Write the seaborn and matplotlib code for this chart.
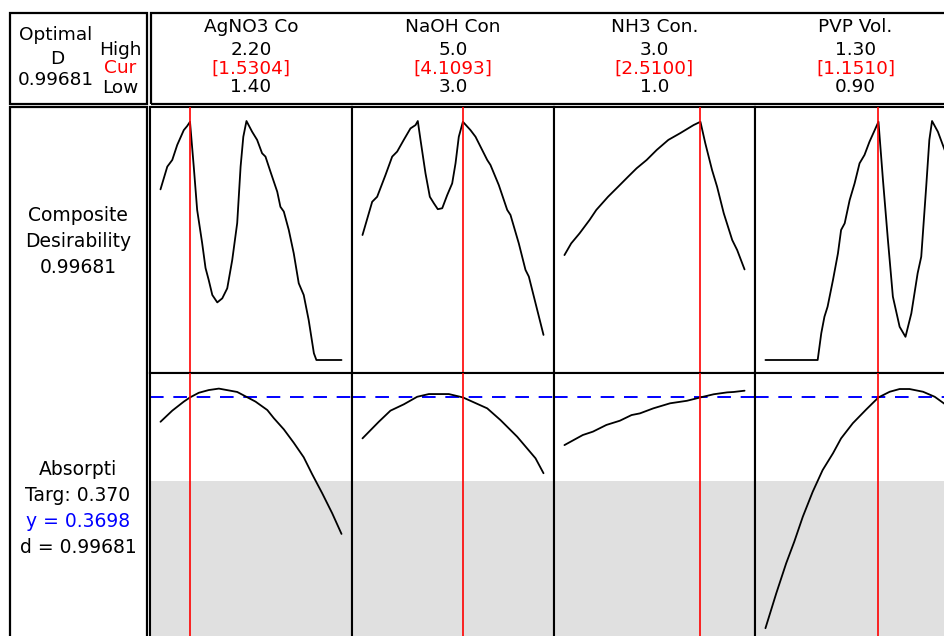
import matplotlib
matplotlib.use('Agg')
import matplotlib.pyplot as plt
from matplotlib.patches import Rectangle
import seaborn as sns

# ------------------------------------------------------------
# Datos del optimizador de respuesta
# ------------------------------------------------------------
factors = ['AgNO3 Co', 'NaOH Con', 'NH3 Con.', 'PVP Vol.']
high_lbl = ['2.20', '5.0', '3.0', '1.30']
low_lbl = ['1.40', '3.0', '1.0', '0.90']
cur_lbl = ['[1.5304]', '[4.1093]', '[2.5100]', '[1.1510]']
low_vals = [1.40, 3.0, 1.0, 0.90]
high_vals = [2.20, 5.0, 3.0, 1.30]
cur_vals = [1.5304, 4.1093, 2.51, 1.151]

optimal_d = '0.99681'
target = 0.370
lower_limit = 0.33
y_pred = '0.3698'

# Deseabilidad compuesta
agno3_dx = [1.40, 1.430, 1.452, 1.474, 1.503, 1.518, 1.5304, 1.547, 1.562, 1.584,
            1.599, 1.613, 1.629, 1.651, 1.673, 1.695, 1.717, 1.739, 1.754, 1.766,
            1.780, 1.805, 1.827, 1.849, 1.864, 1.886, 1.916, 1.930, 1.945, 1.967,
            1.989, 2.011, 2.033, 2.055, 2.078, 2.089, 2.20]
agno3_d = [0.714, 0.809, 0.837, 0.900, 0.962, 0.979, 0.99681, 0.809, 0.628, 0.490,
           0.385, 0.335, 0.272, 0.241, 0.258, 0.300, 0.418, 0.573, 0.809, 0.934,
           1.0, 0.955, 0.921, 0.865, 0.851, 0.788, 0.704, 0.641, 0.621, 0.544,
           0.446, 0.321, 0.272, 0.167, 0.028, 0.0, 0.0]

naoh_dx = [3.0, 3.107, 3.162, 3.254, 3.328, 3.383, 3.456, 3.530, 3.586, 3.611,
           3.641, 3.696, 3.744, 3.788, 3.832, 3.881, 3.936, 3.991, 4.028, 4.064,
           4.1093, 4.193, 4.249, 4.378, 4.414, 4.506, 4.599, 4.635, 4.727, 4.801,
           4.838, 5.0]
naoh_d = [0.523, 0.662, 0.683, 0.774, 0.851, 0.872, 0.921, 0.969, 0.983, 1.0,
          0.921, 0.781, 0.683, 0.656, 0.631, 0.635, 0.690, 0.739, 0.823, 0.934,
          0.99681, 0.962, 0.934, 0.837, 0.816, 0.732, 0.628, 0.607, 0.488, 0.377,
          0.349, 0.105]

nh3_dx = [1.0, 1.075, 1.168, 1.279, 1.354, 1.484, 1.596, 1.707, 1.801, 1.913,
          2.025, 2.154, 2.285, 2.434, 2.51, 2.564, 2.639, 2.695, 2.769, 2.863,
          2.918, 3.0]
nh3_d = [0.439, 0.488, 0.530, 0.586, 0.628, 0.683, 0.725, 0.767, 0.802, 0.837,
         0.879, 0.921, 0.949, 0.983, 0.99681, 0.907, 0.795, 0.725, 0.614, 0.502,
         0.460, 0.379]

pvp_dx = [0.90, 1.016, 1.024, 1.031, 1.038, 1.050, 1.061, 1.068, 1.076, 1.087,
          1.098, 1.109, 1.120, 1.131, 1.151, 1.161, 1.172, 1.183, 1.198, 1.211,
          1.224, 1.238, 1.246, 1.257, 1.264, 1.270, 1.283, 1.298, 1.30]
pvp_d = [0.0, 0.0, 0.112, 0.181, 0.223, 0.335, 0.446, 0.544, 0.572, 0.669,
         0.739, 0.823, 0.858, 0.913, 0.99681, 0.753, 0.502, 0.265, 0.139, 0.097,
         0.195, 0.363, 0.432, 0.725, 0.921, 1.0, 0.955, 0.879, 0.870]

# Respuesta: Absorbancia
agno3_rx = [1.40, 1.452, 1.503, 1.5304, 1.569, 1.613, 1.658, 1.739, 1.820, 1.872,
            1.901, 1.945, 1.989, 2.033, 2.070, 2.115, 2.159, 2.20]
agno3_r = [0.3582, 0.3635, 0.3678, 0.3698, 0.3720, 0.3733, 0.3740, 0.3724, 0.3678, 0.3638,
           0.3599, 0.3546, 0.3482, 0.3413, 0.3333, 0.3241, 0.3146, 0.3048]

naoh_rx = [3.0, 3.180, 3.309, 3.456, 3.604, 3.733, 3.954, 4.1093, 4.378, 4.525,
           4.709, 4.912, 5.0]
naoh_r = [0.3503, 0.3582, 0.3635, 0.3665, 0.3701, 0.3714, 0.3714, 0.3698, 0.3646, 0.3590,
          0.3511, 0.3408, 0.3337]

nh3_rx = [1.0, 1.204, 1.316, 1.466, 1.615, 1.745, 1.838, 1.987, 2.173, 2.360,
          2.51, 2.657, 2.807, 2.880, 3.0]
nh3_r = [0.3471, 0.3519, 0.3535, 0.3567, 0.3587, 0.3614, 0.3622, 0.3646, 0.3670, 0.3682,
         0.3698, 0.3713, 0.3722, 0.3724, 0.3730]

pvp_rx = [0.90, 0.924, 0.946, 0.964, 0.983, 1.005, 1.027, 1.050, 1.068, 1.094,
          1.124, 1.151, 1.176, 1.198, 1.220, 1.250, 1.276, 1.298, 1.30]
pvp_r = [0.2599, 0.2765, 0.2908, 0.3011, 0.3130, 0.3249, 0.3352, 0.3432, 0.3503, 0.3575,
         0.3641, 0.3698, 0.3725, 0.3738, 0.3738, 0.3725, 0.3701, 0.3667, 0.3664]

d_curves = [(agno3_dx, agno3_d), (naoh_dx, naoh_d), (nh3_dx, nh3_d), (pvp_dx, pvp_d)]
r_curves = [(agno3_rx, agno3_r), (naoh_rx, naoh_r), (nh3_rx, nh3_r), (pvp_rx, pvp_r)]

# ------------------------------------------------------------
# Figura
# ------------------------------------------------------------
sns.set_theme(style='white')
plt.rcParams['font.family'] = ['DejaVu Sans']

W, H = 945, 636
fig = plt.figure(figsize=(W / 100, H / 100), dpi=100)


def fx(x):
    return x / W


def fy(y):
    return 1 - y / H


def box(x0, y0, x1, y1):
    fig.patches.append(Rectangle((fx(x0), fy(y1)), fx(x1) - fx(x0), fy(y0) - fy(y1),
                                 transform=fig.transFigure, fill=False,
                                 edgecolor='black', lw=1.6, clip_on=False))


def label(x, y, s, color='black', ha='center', size=13.3):
    fig.text(fx(x), fy(y), s, color=color, ha=ha, va='baseline', fontsize=size)


# Cajas del encabezado y de etiquetas
box(10, 13, 146.5, 103.5)
box(151, 13, 990, 103.5)
box(10, 107, 146.5, 700)

col_edges = [150, 352, 554, 755, 956]
row_edges = [107, 373, 639]
ylims = [(-0.0544, 1.0586), (0.370 - 242 / 2100, 0.370 + 24 / 2100)]

for i in range(4):
    x0, x1 = col_edges[i], col_edges[i + 1]
    pad = 0.058 * (high_vals[i] - low_vals[i])
    for r in range(2):
        y0, y1 = row_edges[r], row_edges[r + 1]
        ax = fig.add_axes([fx(x0), fy(y1), fx(x1) - fx(x0), fy(y0) - fy(y1)])
        ax.set_xlim(low_vals[i] - pad, high_vals[i] + pad)
        ax.set_ylim(*ylims[r])
        if r == 0:
            xs, ys = d_curves[i]
        else:
            xs, ys = r_curves[i]
            ax.axhspan(ylims[1][0], lower_limit, color='#e0e0e0', lw=0, zorder=0)
            ax.axhline(target, color='blue', lw=1.4, ls=(0, (7, 5)), zorder=2)
        sns.lineplot(x=xs, y=ys, ax=ax, color='black', lw=1.3, estimator=None,
                     sort=False, zorder=3)
        ax.axvline(cur_vals[i], color='red', lw=1.2, zorder=4)
        ax.set_xticks([])
        ax.set_yticks([])
        ax.set_xlabel('')
        ax.set_ylabel('')
        for sp in ax.spines.values():
            sp.set_color('black')
            sp.set_linewidth(1.5)
            sp.set_visible(True)

    # textos del encabezado de cada factor
    xc = (x0 + x1) / 2
    label(xc, 32, factors[i])
    label(xc, 55, high_lbl[i])
    label(xc, 73.5, cur_lbl[i], color='red')
    label(xc, 92.5, low_lbl[i])

# Caja superior izquierda
label(56, 40, 'Optimal')
label(57, 64, 'D')
label(56, 85, optimal_d)
label(120, 55, 'High')
label(120, 73, 'Cur', color='red')
label(120, 93, 'Low')

# Columna de etiquetas
label(78, 221, 'Composite', size=13.5)
label(78, 247, 'Desirability', size=13.5)
label(78, 273, optimal_d, size=13.5)
label(78, 475, 'Absorpti', size=13.5)
label(78, 501, 'Targ: 0.370', size=13.5)
label(78, 527, 'y = ' + y_pred, color='blue', size=13.5)
label(78, 553, 'd = ' + optimal_d, size=13.5)

plt.savefig('out.png', dpi=100)
